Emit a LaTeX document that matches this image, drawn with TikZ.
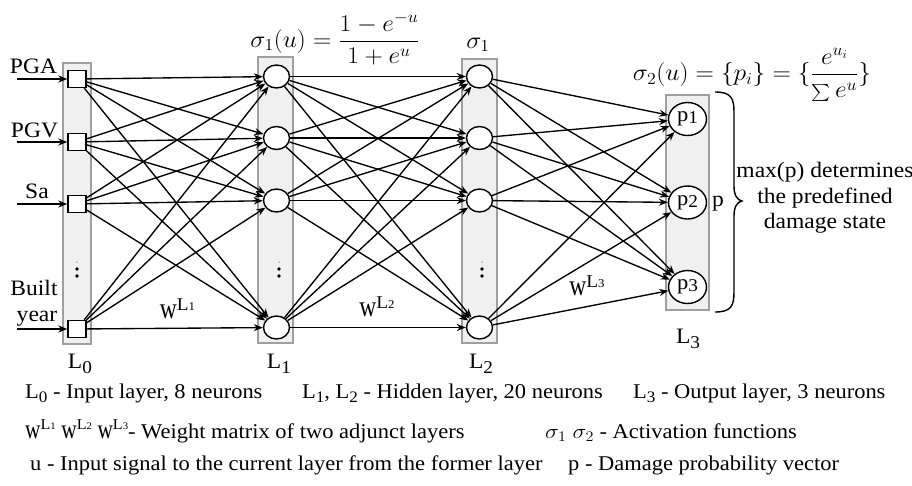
\RequirePackage{fix-cm}
\documentclass[tikz,border=0pt]{standalone}
\usepackage{exscale}
\usepackage[no-math]{fontspec}
\setmainfont[FakeStretch=1.07]{Liberation Serif}
\usepackage{graphicx}
\usetikzlibrary{arrows.meta,shapes.geometric}
\newcommand{\hs}[1]{\scalebox{1.06}[1]{#1}}
\newcommand{\hsl}[1]{\scalebox{1.1}[1]{#1}}
\newcommand{\Lab}[1]{L\raisebox{-5pt}{\fontsize{18}{18}\selectfont #1}}
\newcommand{\LabS}[1]{L\raisebox{-4pt}{\fontsize{16}{16}\selectfont #1}}
\newcommand{\pn}[1]{p\raisebox{-2pt}{\fontsize{18}{18}\selectfont #1}}
\newcommand{\wnet}[1]{\scalebox{1}[1.35]{w}\raisebox{8pt}{\fontsize{18}{18}\selectfont L\fontsize{12}{12}\selectfont #1}}
\newcommand{\wleg}[1]{\scalebox{0.95}[1.3]{w}\raisebox{9pt}{\fontsize{15}{15}\selectfont L\fontsize{10}{10}\selectfont #1}}
\newcommand{\smsum}{\mathop{\scalebox{0.68}{$\textstyle\sum$}}\nolimits}
\begin{document}
\begin{tikzpicture}[x=1pt,y=-1pt]
\tikzset{
  layerbox/.style={draw=gray!75, fill=gray!12, line width=1.6pt, inner sep=0pt},
  insq/.style={draw, fill=white, minimum width=18pt, minimum height=17pt, inner sep=0pt, line width=1.4pt},
  hid/.style={draw, fill=white, ellipse, minimum width=26pt, minimum height=23pt, inner sep=0pt, line width=1.4pt},
  outn/.style={draw, fill=white, ellipse, minimum width=38pt, minimum height=33pt, inner sep=0pt, line width=1.4pt, font=\fontsize{21}{24}\selectfont},
  conn/.style={line width=1.35pt, -{Stealth[length=9pt,width=7pt]}},
  lbl/.style={font=\fontsize{22}{25}\selectfont, inner sep=0pt},
  leg/.style={font=\fontsize{21}{24}\selectfont, inner sep=0pt},
  mth/.style={font=\fontsize{24}{28}\selectfont, inner sep=0pt},
  bracel/.style={line width=1.4pt},
  dotsm/.style={fill=black},
}
\useasboundingbox (0,0) rectangle (912,485);
% layer boxes
\node[layerbox, minimum width=28pt, minimum height=281pt] (B0) at (77,203.5) {};
\node[layerbox, minimum width=35pt, minimum height=286pt] (B1) at (275.5,200) {};
\node[layerbox, minimum width=35pt, minimum height=284pt] (B2) at (479.5,201) {};
\node[layerbox, minimum width=43pt, minimum height=215pt] (B3) at (687.5,202.5) {};
% neurons
\foreach \n/\y in {1/79,2/142,3/204,4/329} \node[insq] (a\n) at (77,\y) {};
\foreach \n/\y in {1/76.5,2/138,3/200.5,4/327.5} \node[hid] (b\n) at (276.5,\y) {};
\foreach \n/\y in {1/76.5,2/138,3/200.5,4/327.5} \node[hid] (c\n) at (479.5,\y) {};
\node[outn] (d1) at (687.5,119) {\pn{1}};
\node[outn] (d2) at (687.5,202.5) {\pn{2}};
\node[outn] (d3) at (687.5,287) {\pn{3}};
% vertical dots
\foreach \x in {77,279,482} {
  \fill[gray!60] (\x,262) circle (1pt);
  \fill[dotsm] (\x,269) circle (1.8pt);
  \fill[dotsm] (\x,276) circle (1.8pt);
}
% connections
\foreach \i in {1,...,4} \foreach \j in {1,...,4} \draw[conn] (a\i) -- (b\j);
\foreach \i in {1,...,4} \foreach \j in {1,...,4} \draw[conn] (b\i) -- (c\j);
\foreach \i in {1,...,4} \foreach \j in {1,2,3} \draw[conn] (c\i) -- (d\j);
% inputs
\foreach \n/\y in {1/79,2/142,3/204,4/329} {
  \coordinate (in\n) at (17,\y);
  \draw[conn] (in\n) -- (a\n);
}
\node[lbl, anchor=base] (tPGA) at (33.5,73) {PGA};
\node[lbl, anchor=base] (tPGV) at (34.5,137) {PGV};
\node[lbl, anchor=base] (tSa) at (37,198) {Sa};
\node[lbl, anchor=base] (tBuilt) at (34,295) {Built};
\node[lbl, anchor=base] (tyear) at (37,321) {year};
% layer labels
\node[lbl, anchor=base] (lL0) at (80,368) {\Lab{0}};
\node[lbl, anchor=base] (lL1) at (279,368) {\Lab{1}};
\node[lbl, anchor=base] (lL2) at (481,368) {\Lab{2}};
\node[lbl, anchor=base] (lL3) at (688,343) {\Lab{3}};
% weight labels
\node[lbl, anchor=base] (w1) at (177.5,318) {\wnet{1}};
\node[lbl, anchor=base] (w2) at (377,316) {\wnet{2}};
\node[lbl, anchor=base] (w3) at (587,295) {\wnet{3}};
% formulas
\node[mth] (f1) at (335,39) {\hs{$\displaystyle\sigma_1(u)=\frac{1-e^{-u}}{1+e^{u}}$}};
\node[mth] (s1) at (478,45) {\hs{$\sigma_1$}};
\node[mth] (f2) at (752,75) {\hs{$\displaystyle\sigma_2(u)=\{p_i\}=\{\frac{e^{u_i}}{\smsum e^{u}}\}$}};
% brace
\draw[bracel] (715,92) .. controls (731,92) and (734,98) .. (734,112) -- (734,186)
  .. controls (734,195) and (737,200) .. (742,201)
  .. controls (737,202) and (734,207) .. (734,216) -- (734,292)
  .. controls (734,306) and (731,312) .. (715,312);
\node[lbl, anchor=base] (plab) at (718,206) {p};
\node[lbl, anchor=base] (m1) at (825,177) {max(p) determines};
\node[lbl, anchor=base] (m2) at (825,203) {the predefined};
\node[lbl, anchor=base] (m3) at (825,228) {damage state};
% legend
\node[leg, anchor=base west] (lg1a) at (25,398) {\LabS{0} - Input layer, 8 neurons};
\node[leg, anchor=base west] (lg1b) at (302,398) {\LabS{1}, \LabS{2} - Hidden layer, 20 neurons};
\node[leg, anchor=base west] (lg1c) at (633,398) {\LabS{3} - Output layer, 3 neurons};
\node[leg, anchor=base west] (lg2a) at (25,438) {\wleg{1} \wleg{2} \wleg{3}- Weight matrix of two adjunct layers};
\node[leg, anchor=base west] (lg2b) at (545,438) {\hsl{$\sigma_1$ $\sigma_2$} - Activation functions};
\node[leg, anchor=base west] (lg3a) at (30,470) {u - Input signal to the current layer from the former layer};
\node[leg, anchor=base west] (lg3b) at (568,470) {p - Damage probability vector};
\end{tikzpicture}
\end{document}
